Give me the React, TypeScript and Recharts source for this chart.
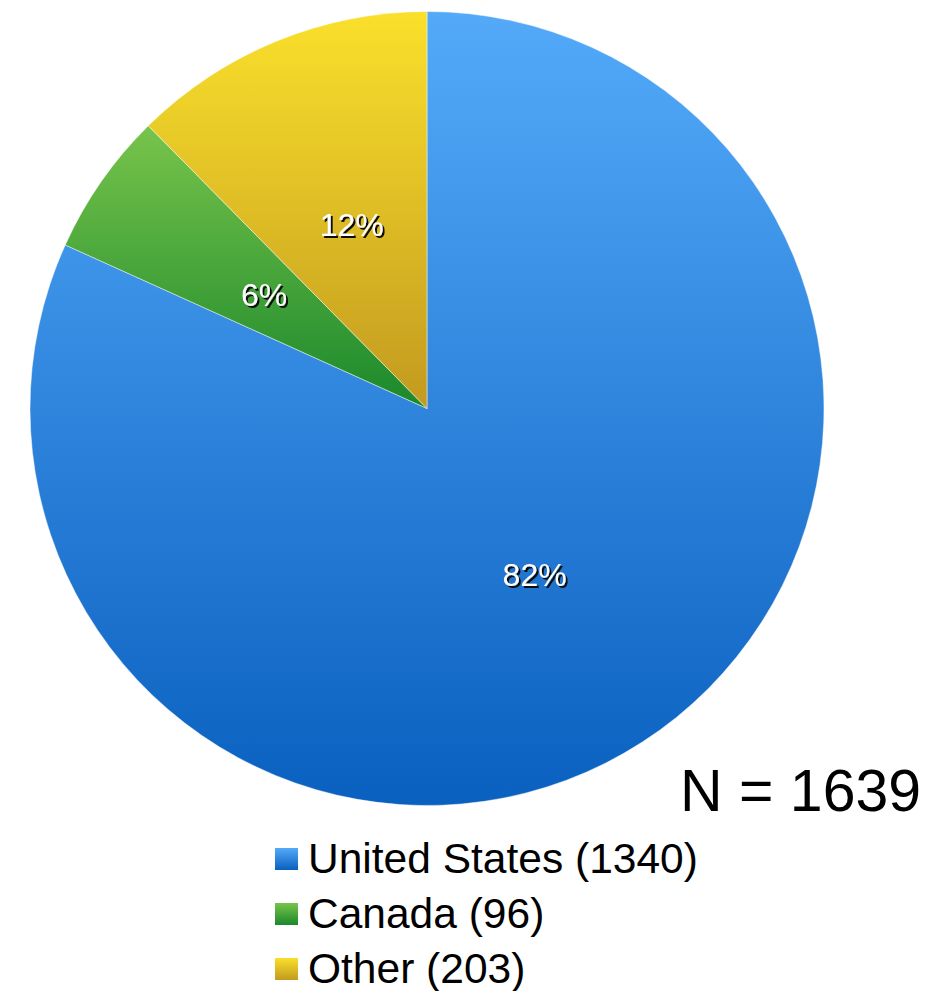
import { PieChart, Pie, Cell, Legend } from "recharts";

const countries = ["United States", "Canada", "Other"];
const counts = [1340, 96, 203];
const gradientTops = ["#54aaf9", "#78c44b", "#fae02b"];
const gradientBottoms = ["#0a60bf", "#1a882b", "#c29a1f"];

const data = countries.map((name, i) => ({ name, value: counts[i] }));
const total = counts.reduce((a, b) => a + b, 0);

const FONT = "'Liberation Sans', Arial, sans-serif";
const RADIAN = Math.PI / 180;

function renderLabel({ cx, cy, midAngle, outerRadius, percent }: any) {
  const r = outerRadius * 0.5;
  const x = cx + r * Math.cos(-midAngle * RADIAN);
  const y = cy + r * Math.sin(-midAngle * RADIAN);
  return (
    <text
      x={x}
      y={y}
      fill="#ffffff"
      textAnchor="middle"
      dominantBaseline="central"
      fontSize={32}
      fontFamily={FONT}
      filter="url(#labelShadow)"
    >
      {`${Math.round(percent * 100)}%`}
    </text>
  );
}

function LegendContent() {
  return (
    <div style={{ fontFamily: FONT }}>
      {data.map((d, i) => (
        <div key={d.name} style={{ position: "relative", height: 55, lineHeight: "55px", fontSize: 42.5, color: "#000", whiteSpace: "nowrap" }}>
          <span
            style={{
              position: "absolute",
              left: 0,
              top: 17,
              width: 23,
              height: 22,
              background: `linear-gradient(${gradientTops[i]}, ${gradientBottoms[i]})`,
            }}
          />
          <span style={{ position: "absolute", left: 33, top: 0 }}>
            {d.name} ({d.value})
          </span>
        </div>
      ))}
    </div>
  );
}

export default function App() {
  return (
    <div style={{ position: "absolute", left: 0, top: 0, width: 935, height: 991, background: "#fff" }}>
      <PieChart width={935} height={991} margin={{ top: 0, right: 0, bottom: 0, left: 0 }}>
        <defs>
          {countries.map((c, i) => (
            <linearGradient key={c} id={`grad${i}`} x1="0" y1="0" x2="0" y2="1">
              <stop offset="0%" stopColor={gradientTops[i]} />
              <stop offset="100%" stopColor={gradientBottoms[i]} />
            </linearGradient>
          ))}
          <filter id="labelShadow" x="-20%" y="-20%" width="140%" height="140%">
            <feDropShadow dx="2" dy="2" stdDeviation="0.4" floodColor="#111" floodOpacity="1" />
          </filter>
        </defs>
        <Pie
          data={data}
          dataKey="value"
          nameKey="name"
          cx={427}
          cy={408.5}
          outerRadius={397}
          startAngle={90}
          endAngle={-270}
          stroke="rgba(255,255,255,0.45)"
          strokeWidth={1}
          label={renderLabel}
          labelLine={false}
          isAnimationActive={false}
        >
          {data.map((d, i) => (
            <Cell key={d.name} fill={`url(#grad${i})`} />
          ))}
        </Pie>
        <Legend content={<LegendContent />} wrapperStyle={{ position: "absolute", left: 275, top: 831, width: 500, bottom: "auto" }} />
      </PieChart>
      <div
        style={{
          position: "absolute",
          left: 680,
          top: 762,
          fontFamily: FONT,
          fontSize: 59,
          lineHeight: "59px",
          color: "#000",
          whiteSpace: "nowrap",
        }}
      >
        N = {total}
      </div>
    </div>
  );
}
